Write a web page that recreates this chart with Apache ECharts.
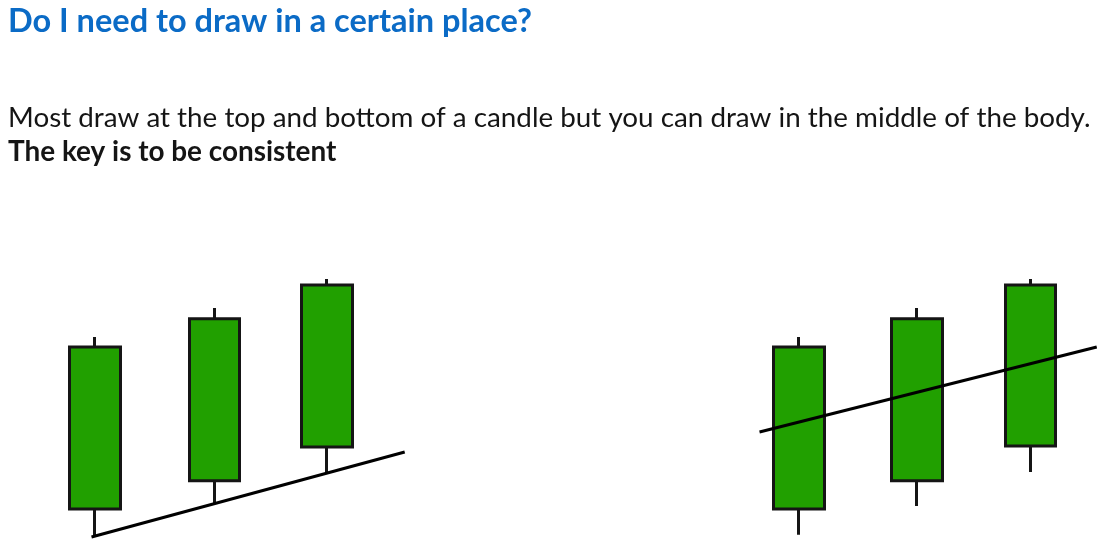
<!DOCTYPE html>
<html>
<head>
<meta charset="utf-8">
<script src="https://cdn.jsdelivr.net/npm/echarts@6/dist/echarts.min.js"></script>
<style>html,body{margin:0;padding:0;background:#fff;}#c{width:1106px;height:543px;}</style>
</head>
<body>
<div id="c"></div>
<script>
const titleText = 'Do I need to draw in a certain place?';
const line1Text = 'Most draw at the top and bottom of a candle but you can draw in the middle of the body.';
const line2Text = 'The key is to be consistent';
// [session, open, close, low, high]
const candlesLeft = [[0, 11.5, 71.5, 1.1, 75.2], [1.03, 21.9, 81.9, 13.7, 85.9], [2, 34.4, 94.4, 25.2, 96.7]];
const candlesRight = [[0, 11.5, 71.5, 1.9, 75.2], [1.02, 21.9, 81.9, 12.6, 85.9], [2, 34.8, 94.4, 25.2, 96.7]];
// trend lines [session, price]
const lineLeft = [[-0.03, 1.1], [2.67, 32.6]];
const lineRight = [[-0.34, 40.0], [2.57, 71.5]];

const chart = echarts.init(document.getElementById('c'));
const candleStyle = {
  color: '#21a000', color0: '#21a000',
  borderColor: '#151515', borderColor0: '#151515', borderWidth: 3
};
chart.setOption({
  animation: false,
  graphic: [
    { type: 'text', left: 8, top: 5, style: { text: titleText, fill: '#0b6bc6', font: 'bold 32.5px Lato' } },
    { type: 'text', left: 8, top: 104, style: { text: line1Text, fill: '#151515', font: '27.8px Lato' } },
    { type: 'text', left: 8, top: 138, style: { text: line2Text, fill: '#151515', font: 'bold 27.9px Lato' } }
  ],
  grid: [
    { left: 25.4, top: 270, width: 406, height: 270 },
    { left: 729.4, top: 270, width: 377, height: 270 }
  ],
  xAxis: [
    { type: 'value', min: -0.6, max: 2.9, gridIndex: 0, show: false },
    { type: 'value', min: -0.6, max: 2.65, gridIndex: 1, show: false }
  ],
  yAxis: [
    { type: 'value', min: 0, max: 100, gridIndex: 0, show: false },
    { type: 'value', min: 0, max: 100, gridIndex: 1, show: false }
  ],
  series: [
    { type: 'candlestick', xAxisIndex: 0, yAxisIndex: 0, data: candlesLeft, barWidth: 51, itemStyle: candleStyle },
    { type: 'candlestick', xAxisIndex: 1, yAxisIndex: 1, data: candlesRight, barWidth: 51, itemStyle: candleStyle },
    { type: 'line', xAxisIndex: 0, yAxisIndex: 0, data: lineLeft, symbol: 'none', lineStyle: { color: '#000', width: 3 }, z: 5 },
    { type: 'line', xAxisIndex: 1, yAxisIndex: 1, data: lineRight, symbol: 'none', lineStyle: { color: '#000', width: 3 }, z: 5 }
  ]
});
</script>
</body>
</html>
